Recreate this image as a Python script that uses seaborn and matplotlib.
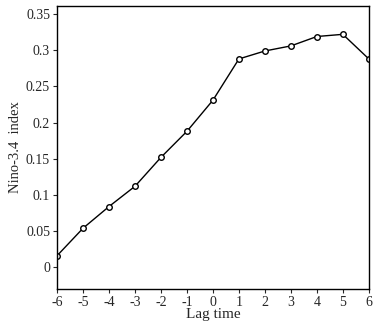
import seaborn as sns
import pandas as pd
from matplotlib import pyplot as plt

# lag (months) vs Nino-3.4 index
lag = [-6, -5, -4, -3, -2, -1, 0, 1, 2, 3, 4, 5, 6]
nino34 = [0.016, 0.054, 0.084, 0.112, 0.152, 0.188, 0.231,
          0.288, 0.299, 0.306, 0.319, 0.322, 0.288]

df = pd.DataFrame({"lag": lag, "nino": nino34})

sns.set_style("ticks")
plt.rcParams['font.family'] = ['Liberation Serif', 'DejaVu Serif']
plt.rcParams['font.size'] = 10
plt.rcParams['axes.unicode_minus'] = False

fig = plt.figure(figsize=(3.83, 3.22), dpi=100)
ax = fig.add_axes([0.149, 0.1025, 0.814, 0.8785])

sns.lineplot(data=df, x="lag", y="nino", ax=ax, color="black", linewidth=1,
             marker="o", markersize=4, markerfacecolor="white",
             markeredgecolor="black", markeredgewidth=1)

ax.set_xlim(-6, 6)
ax.set_ylim(-0.03, 0.361)
ax.set_xticks(range(-6, 7))
ax.set_yticks([0, 0.05, 0.1, 0.15, 0.2, 0.25, 0.3, 0.35])
ax.set_yticklabels(["0", "0.05", "0.1", "0.15", "0.2", "0.25", "0.3", "0.35"])
ax.tick_params(direction="out", length=3, width=0.8, labelsize=10, pad=2)
for s in ax.spines.values():
    s.set_linewidth(1)
    s.set_color("black")

ax.set_xlabel("Lag time", fontsize=11, labelpad=-1)
ax.set_ylabel("Nino-3.4  index", fontsize=10.5, labelpad=3)

fig.savefig("out.png", dpi=100)
